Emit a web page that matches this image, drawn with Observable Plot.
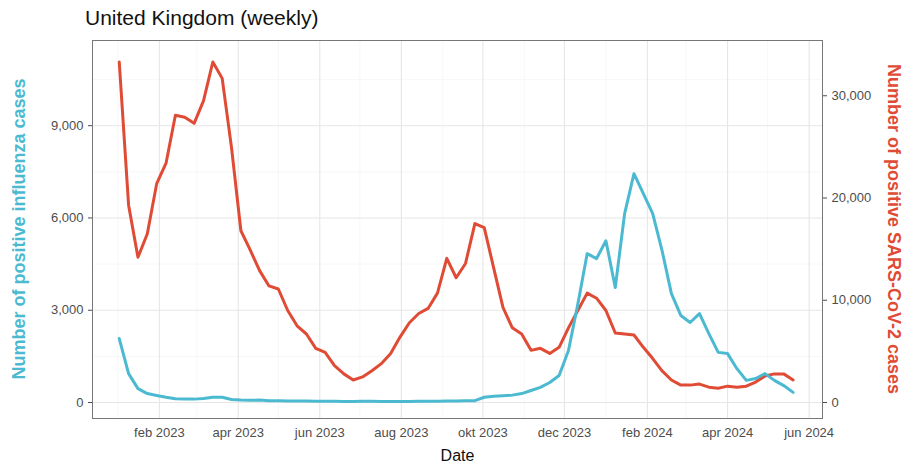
<!DOCTYPE html>
<html><head><meta charset="utf-8">
<script src="https://cdn.jsdelivr.net/npm/d3@7"></script>
<script src="https://cdn.jsdelivr.net/npm/@observablehq/plot@0.6"></script>
<style>
body{margin:0;background:#fff;font-family:"Liberation Sans",Arial,sans-serif}
#wrap{position:relative;width:904px;height:468px}
#title{position:absolute;left:85px;top:6px;font-size:21px;color:#111}
</style></head>
<body><div id="wrap"><div id="title">United Kingdom (weekly)</div><div id="chart"></div></div>
<script>
// weekly series, first week starting 2 Jan 2023
const startDate = new Date(2023, 0, 2);
const fluCases = [2080,940,450,290,230,170,120,110,110,130,170,170,100,80,70,80,60,60,50,50,50,40,40,40,30,30,40,40,30,30,30,30,40,40,40,50,50,60,60,170,200,220,240,290,390,490,650,880,1690,3200,4840,4680,5260,3740,6140,7440,6790,6140,4940,3540,2830,2600,2890,2240,1630,1590,1100,720,780,940,720,550,330];
const covidCases = [33300,19300,14200,16500,21400,23400,28100,27900,27300,29500,33300,31700,24900,16800,14900,12900,11400,11100,9000,7500,6700,5300,4900,3600,2800,2200,2500,3100,3800,4800,6400,7800,8700,9200,10700,14100,12200,13600,17500,17100,13200,9300,7300,6700,5100,5300,4800,5400,7300,9000,10700,10200,9000,6800,6700,6600,5400,4300,3100,2200,1700,1700,1800,1500,1400,1600,1500,1600,2000,2600,2800,2800,2200];
const fluTicks = [0,3000,6000,9000];
const covidTicks = [0,10000,20000,30000];
const dateTicks = [new Date(2023,1,1),new Date(2023,3,1),new Date(2023,5,1),new Date(2023,7,1),new Date(2023,9,1),new Date(2023,11,1),new Date(2024,1,1),new Date(2024,3,1),new Date(2024,5,1)];
const dateLabels = ["feb 2023","apr 2023","jun 2023","aug 2023","okt 2023","dec 2023","feb 2024","apr 2024","jun 2024"];
const minorDates = [new Date(2023,0,1),new Date(2023,2,1),new Date(2023,4,1),new Date(2023,6,1),new Date(2023,8,1),new Date(2023,10,1),new Date(2024,0,1),new Date(2024,2,1),new Date(2024,4,1)];
const minorFlu = [1500,4500,7500,10500];

const ratio = 3.008; // covid units per flu unit on the right axis
const week = i => d3.timeDay.offset(startDate, 7 * i);
const flu = fluCases.map((v, i) => ({date: week(i), v}));
const covid = covidCases.map((v, i) => ({date: week(i), v: v / ratio}));

const blue = "#4bbad1", red = "#e04b35";
const chart = Plot.plot({
  width: 904, height: 468,
  marginLeft: 92, marginRight: 82, marginTop: 40, marginBottom: 50,
  style: {fontFamily: "Liberation Sans, Arial, sans-serif", fontSize: "13px", color: "#4d4d4d"},
  x: {type: "time", domain: [new Date(2022,11,13), new Date(2024,5,11)]},
  y: {domain: [-520, 11770]},
  marks: [
    Plot.ruleY(minorFlu, {stroke: "#f2f2f2", strokeWidth: 0.6}),
    Plot.ruleX(minorDates, {stroke: "#f2f2f2", strokeWidth: 0.6}),
    Plot.ruleY(fluTicks, {stroke: "#e6e6e6", strokeWidth: 1.1}),
    Plot.ruleX(dateTicks, {stroke: "#e6e6e6", strokeWidth: 1.1}),
    Plot.frame({stroke: "#777"}),
    Plot.axisX(dateTicks, {tickFormat: (d, i) => dateLabels[i], label: "Date", labelAnchor: "center", labelArrow: "none", labelOffset: 42, fontSize: 13, stroke: null, fill: "#4d4d4d", tickSize: 4}),
    Plot.axisY(fluTicks, {anchor: "left", tickFormat: d3.format(","), label: null, fill: "#4d4d4d", tickSize: 4}),
    Plot.axisY(covidTicks.map(d => d / ratio), {anchor: "right", tickFormat: d => d3.format(",")(Math.round(d * ratio / 1000) * 1000), label: null, fill: "#4d4d4d", tickSize: 4}),
    Plot.line(covid, {x: "date", y: "v", stroke: red, strokeWidth: 3}),
    Plot.line(flu, {x: "date", y: "v", stroke: blue, strokeWidth: 3})
  ]
});
const svg = d3.select(chart);
svg.select('[aria-label="x-axis label"] text').style("font-size", "16px").style("fill", "#111");
const midY = (40 + 418) / 2;
svg.append("text").attr("transform", `translate(25,${midY}) rotate(-90)`).attr("text-anchor", "middle")
  .style("font-size", "18px").style("font-weight", "bold").style("fill", blue).text("Number of positive influenza cases");
svg.append("text").attr("transform", `translate(888,${midY}) rotate(90)`).attr("text-anchor", "middle")
  .style("font-size", "18px").style("font-weight", "bold").style("fill", red).text("Number of positive SARS-CoV-2 cases");
document.getElementById("chart").append(chart);
</script></body></html>
